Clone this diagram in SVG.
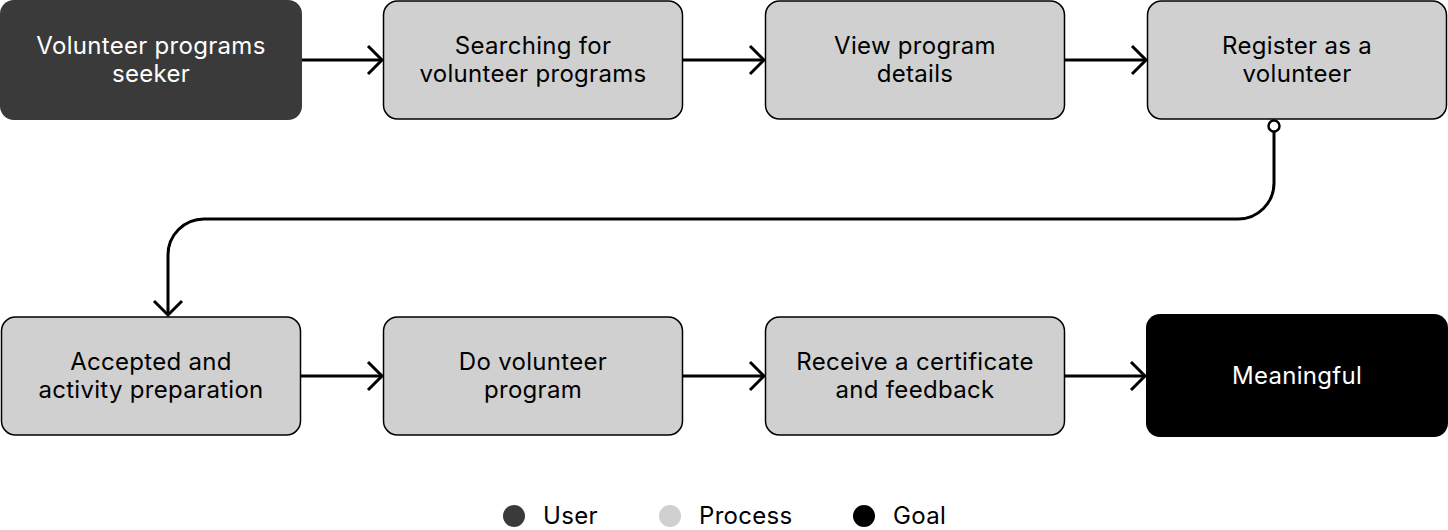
<svg xmlns="http://www.w3.org/2000/svg" width="1448" height="530" viewBox="0 0 1448 530">
<style>
.proc{fill:#d0d0d0;stroke:#000;stroke-width:1.5}
.t{font-family:Inter,"Liberation Sans",sans-serif;font-size:24px;letter-spacing:0.3px;text-anchor:middle}
.w{fill:#fff}
.k{fill:#000}
.lg{font-family:Inter,"Liberation Sans",sans-serif;font-size:24px;letter-spacing:0.3px;fill:#000}
.c{fill:none;stroke:#000;stroke-width:3}
</style>
<defs>
<marker id="arr" markerWidth="32" markerHeight="32" viewBox="0 0 32 32" refX="29" refY="16" orient="auto" markerUnits="userSpaceOnUse">
<path d="M15,2 L29,16 L15,30" fill="none" stroke="#000" stroke-width="3"/>
</marker>
</defs>
<rect width="1448" height="530" fill="#fff"/>
<g id="n1"><rect x="0" y="0" width="302" height="120" rx="14" fill="#3a3a3a"/><text class="t w" x="151" y="54">Volunteer programs</text><text class="t w" x="151" y="82">seeker</text></g>
<g id="n2"><rect class="proc" x="383.5" y="1" width="299" height="118" rx="14"/><text class="t k" x="533" y="54">Searching for</text><text class="t k" x="533" y="82">volunteer programs</text></g>
<g id="n3"><rect class="proc" x="765.5" y="1" width="299" height="118" rx="14"/><text class="t k" x="915" y="54">View program</text><text class="t k" x="915" y="82">details</text></g>
<g id="n4"><rect class="proc" x="1147.5" y="1" width="299" height="118" rx="14"/><text class="t k" x="1297" y="54">Register as a</text><text class="t k" x="1297" y="82">volunteer</text></g>
<g id="n5"><rect class="proc" x="1.5" y="317" width="299" height="118" rx="14"/><text class="t k" x="151" y="370">Accepted and</text><text class="t k" x="151" y="398">activity preparation</text></g>
<g id="n6"><rect class="proc" x="383.5" y="317" width="299" height="118" rx="14"/><text class="t k" x="533" y="370">Do volunteer</text><text class="t k" x="533" y="398">program</text></g>
<g id="n7"><rect class="proc" x="765.5" y="317" width="299" height="118" rx="14"/><text class="t k" x="915" y="370">Receive a certificate</text><text class="t k" x="915" y="398">and feedback</text></g>
<g id="n8"><rect x="1146" y="314" width="302" height="123" rx="14" fill="#000"/><text class="t w" x="1297" y="384">Meaningful</text></g>
<g id="connectors">
<path class="c" d="M302,60 H382" marker-end="url(#arr)"/>
<path class="c" d="M683,60 H764" marker-end="url(#arr)"/>
<path class="c" d="M1065,60 H1146" marker-end="url(#arr)"/>
<path class="c" d="M301,376 H382" marker-end="url(#arr)"/>
<path class="c" d="M683,376 H764" marker-end="url(#arr)"/>
<path class="c" d="M1065,376 H1145" marker-end="url(#arr)"/>
<path class="c" d="M1274,132 V183 A36,36 0 0 1 1238,219 H204 A36,36 0 0 0 168,255 V315" marker-end="url(#arr)"/>
<circle cx="1274" cy="126" r="5.5" fill="#fff" stroke="#000" stroke-width="2.5"/>
</g>
<g id="legend">
<circle cx="514" cy="516" r="11" fill="#3a3a3a"/><text class="lg" x="543" y="524">User</text>
<circle cx="670" cy="516" r="11" fill="#d0d0d0"/><text class="lg" x="699" y="524">Process</text>
<circle cx="864" cy="516" r="11" fill="#000"/><text class="lg" x="893" y="524">Goal</text>
</g>
</svg>
